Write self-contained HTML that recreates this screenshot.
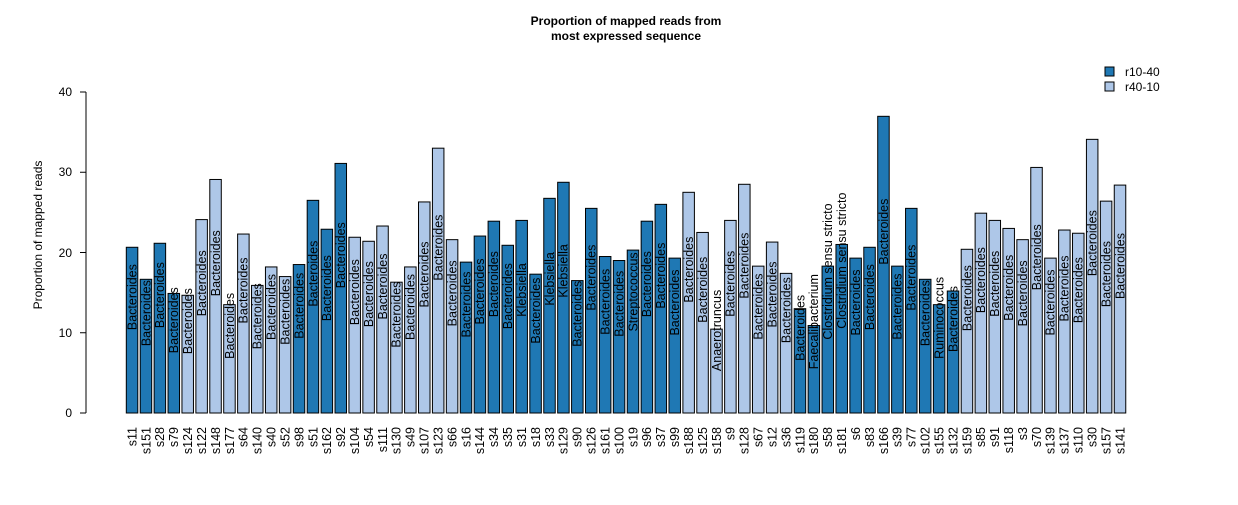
<!DOCTYPE html>
<html><head><meta charset="utf-8"><style>
html,body{margin:0;padding:0;background:#fff;}
svg text{font-family:"Liberation Sans",Arial,sans-serif;}
</style></head><body>
<svg id="c" width="1238" height="500" xmlns="http://www.w3.org/2000/svg">
<text x="626" y="25" text-anchor="middle" font-size="12" font-weight="bold">Proportion of mapped reads from</text>
<text x="626" y="40" text-anchor="middle" font-size="12" font-weight="bold">most expressed sequence</text>
<line x1="86" y1="92" x2="86" y2="413" stroke="#000"/>
<g stroke="#000"><line x1="80" y1="413" x2="86" y2="413"/><line x1="80" y1="332.75" x2="86" y2="332.75"/><line x1="80" y1="252.5" x2="86" y2="252.5"/><line x1="80" y1="172.25" x2="86" y2="172.25"/><line x1="80" y1="92" x2="86" y2="92"/></g>
<g font-size="12" text-anchor="end"><text x="72" y="417">0</text><text x="72" y="337">10</text><text x="72" y="257">20</text><text x="72" y="176">30</text><text x="72" y="96">40</text></g>
<text transform="translate(42,235) rotate(-90)" text-anchor="middle" font-size="12">Proportion of mapped reads</text>
<rect x="1105" y="67" width="9" height="9" fill="#1f78b4" stroke="#000"/>
<rect x="1105" y="82" width="9" height="9" fill="#aec7e8" stroke="#000"/>
<text x="1125" y="76" font-size="12">r10-40</text>
<text x="1125" y="91" font-size="12">r40-10</text>
<g id="bars"></g>
</svg>
<script>
var d=[["s11",20.65,1],["s151",16.66,1],["s28",21.15,1],["s79",14.9,1],["s124",14.67,0],["s122",24.1,0],["s148",29.1,0],["s177",13.5,0],["s64",22.3,0],["s140",15.9,0],["s40",18.2,0],["s52",17.0,0],["s98",18.5,1],["s51",26.5,1],["s162",22.9,1],["s92",31.1,1],["s104",21.9,0],["s54",21.4,0],["s111",23.3,0],["s130",16.3,0],["s49",18.2,0],["s107",26.3,0],["s123",33.0,0],["s66",21.6,0],["s16",18.8,1],["s144",22.05,1],["s34",23.9,1],["s35",20.9,1],["s31",24.0,1,"Klebsiella"],["s18",17.3,1],["s33",26.75,1,"Klebsiella"],["s129",28.75,1,"Klebsiella"],["s90",16.5,1],["s126",25.5,1],["s161",19.5,1],["s100",19.0,1],["s19",20.3,1,"Streptococcus"],["s96",23.9,1],["s37",26.0,1],["s99",19.3,1],["s188",27.5,0],["s125",22.5,0],["s158",10.45,0,"Anaerotruncus"],["s9",24.0,0],["s128",28.5,0],["s67",18.3,0],["s12",21.3,0],["s36",17.4,0],["s119",13.0,1],["s180",10.9,1,"Faecalibacterium"],["s58",18.3,1,"Clostridium sensu stricto"],["s181",21.0,1,"Clostridium sensu stricto"],["s6",19.3,1],["s83",20.65,1],["s166",36.97,1],["s39",18.3,1],["s77",25.5,1],["s102",16.66,1],["s155",13.5,1,"Ruminococcus"],["s132",15.2,1],["s159",20.4,0],["s85",24.9,0],["s91",24.0,0],["s118",23.0,0],["s3",21.6,0],["s70",30.6,0],["s139",19.3,0],["s137",22.8,0],["s110",22.4,0],["s30",34.1,0],["s157",26.4,0],["s141",28.4,0]];
var s="",k=8.025,b=413;
d.forEach(function(r,i){var x=126.3+i*13.915,w=11.5,h=r[1]*k,cx=x+w/2+4.3;
s+='<rect x="'+x.toFixed(2)+'" y="'+(b-h).toFixed(2)+'" width="'+w+'" height="'+h.toFixed(2)+'" fill="'+(r[2]?'#1f78b4':'#aec7e8')+'" stroke="#000" stroke-width="1"/>';
s+='<text transform="translate('+cx.toFixed(2)+','+(b-h/2).toFixed(2)+') rotate(-90)" font-size="12.5">'+(r[3]||"Bacteroides")+'</text>';
s+='<text transform="translate('+cx.toFixed(2)+',427) rotate(-90)" text-anchor="end" font-size="12.5">'+r[0]+'</text>';});
document.getElementById("bars").innerHTML=s;
</script>
</body></html>
